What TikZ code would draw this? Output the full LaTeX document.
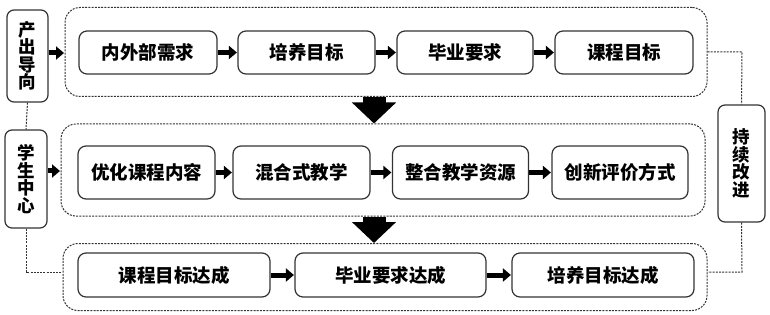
\documentclass[tikz,border=0pt]{standalone}
\usepackage{fontspec}
\newfontfamily\cjk{Noto Sans CJK SC}
\usetikzlibrary{arrows.meta}
\definecolor{ln}{HTML}{333333}
\begin{document}
\begin{tikzpicture}[x=1pt,y=-1pt,
  box/.style={draw=ln,line width=1.2pt,rounded corners=8pt,inner sep=0pt,
    font=\cjk\bfseries\fontsize{18.5}{20}\selectfont,text=black},
  cont/.style={draw=ln,line width=1pt,dash pattern=on 2pt off 1.2pt,rounded corners=15pt,inner sep=0pt},
  side/.style={draw=ln,line width=1.2pt,rounded corners=7pt,inner sep=0pt,align=center,
    font=\cjk\bfseries\fontsize{17.5}{17.5}\selectfont,text=black},
  link/.style={draw=ln,line width=1pt,dash pattern=on 2pt off 1.2pt},
  sarr/.style={draw=black,line width=5pt,-{Triangle[length=8pt,width=13pt]},shorten >=0.5pt},
  barr/.style={draw=black,line width=23pt,-{Triangle[length=21pt,width=43pt]}}
]
\useasboundingbox[fill=white] (0,0) rectangle (770,315);
% containers
\node[cont,minimum width=642pt,minimum height=89pt] (top) at (386,52) {};
\node[cont,minimum width=644pt,minimum height=92pt] (mid) at (383,170) {};
\node[cont,minimum width=644pt,minimum height=67pt] (bot) at (385,277) {};
% top row
\node[box,minimum width=138pt,minimum height=43pt] (t1) at (148,52.5) {内外部需求};
\node[box,minimum width=137pt,minimum height=43pt] (t2) at (306.5,52.5) {培养目标};
\node[box,minimum width=136pt,minimum height=43pt] (t3) at (465,52.5) {毕业要求};
\node[box,minimum width=138pt,minimum height=43pt] (t4) at (624,52.5) {课程目标};
% middle row
\node[box,minimum width=137pt,minimum height=53pt] (m1) at (146.5,172.5) {优化课程内容};
\node[box,minimum width=137pt,minimum height=53pt] (m2) at (301.5,172.5) {混合式教学};
\node[box,minimum width=136pt,minimum height=53pt] (m3) at (460.5,172.5) {整合教学资源};
\node[box,minimum width=136pt,minimum height=53pt] (m4) at (620,172.5) {创新评价方式};
% bottom row
\node[box,minimum width=192pt,minimum height=44pt] (n1) at (174,275) {课程目标达成};
\node[box,minimum width=191pt,minimum height=44pt] (n2) at (390.5,275) {毕业要求达成};
\node[box,minimum width=182pt,minimum height=44pt] (n3) at (603,275) {培养目标达成};
% side boxes
\node[side,minimum width=41pt,minimum height=92pt] (L1) at (27.5,56) {产\\出\\导\\向};
\node[side,minimum width=42pt,minimum height=98pt] (L2) at (26,179) {学\\生\\中\\心};
\node[side,minimum width=47pt,minimum height=117pt] (R) at (741.5,163.5) {持\\续\\改\\进};
% coordinates for dashed links
\coordinate (c1) at (27,272);
\coordinate (c2) at (742,52);
\coordinate (c3) at (742,272);
% small arrows
\draw[sarr] (t1.east) -- (t2.west);
\draw[sarr] (t2.east) -- (t3.west);
\draw[sarr] (t3.east) -- (t4.west);
\draw[sarr] (m1.east) -- (m2.west);
\draw[sarr] (m2.east) -- (m3.west);
\draw[sarr] (m3.east) -- (m4.west);
\draw[sarr] (n1.east) -- (n2.west);
\draw[sarr] (n2.east) -- (n3.west);
\draw[sarr] (L1.east |- 0,53) -- (top.west |- 0,53);
\draw[sarr] (L2.east |- 0,171) -- (mid.west |- 0,171);
% big arrows
\draw[barr] (374,0 |- top.south) -- (374,0 |- mid.north);
\draw[barr] (374,0 |- mid.south) -- (374,0 |- bot.north);
% dashed links
\draw[link] (L1.south) -- (L2.north);
\draw[link] (L2.south) |- (c1) -- (bot.west |- c1);
\draw[link] (top.east |- c2) -- (c2) -- (R.north);
\draw[link] (R.south) -- (c3) -- (bot.east |- c3);
\end{tikzpicture}
\end{document}
